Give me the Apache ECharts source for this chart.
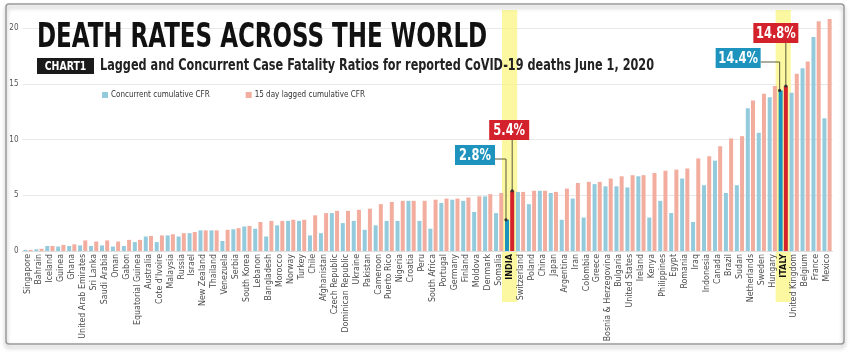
<!DOCTYPE html>
<html><head><meta charset="utf-8">
<script src="https://cdn.jsdelivr.net/npm/echarts@6/dist/echarts.min.js"></script>
<style>html,body{margin:0;padding:0;background:#fff}#c{width:850px;height:355px}</style>
</head><body><div id="c"></div>
<script>
const categories = ["Singapore","Bahrain","Iceland","Guinea","Ghana","United Arab Emirates","Sri Lanka","Saudi Arabia","Oman","Gabon","Equatorial Guinea","Australia","Cote d'Ivoire","Malaysia","Russia","Israel","New Zealand","Thailand","Venezuela","Serbia","South Korea","Lebanon","Bangladesh","Morocco","Norway","Turkey","Chile","Afghanistan","Czech Republic","Dominican Republic","Ukraine","Pakistan","Cameroon","Puerto Rico","Nigeria","Croatia","Peru","South Africa","Portugal","Germany","Finland","Moldova","Denmark","Somalia","INDIA","Switzerland","Poland","China","Japan","Argentina","Iran","Colombia","Greece","Bosnia & Herzegovina","Bulgaria","United States","Ireland","Kenya","Philippines","Egypt","Romania","Iraq","Indonesia","Canada","Brazil","Sudan","Netherlands","Sweden","Hungary","ITALY","United Kingdom","Belgium","France","Mexico"];
const concurrent = [0.1,0.15,0.45,0.4,0.45,0.5,0.45,0.5,0.4,0.45,0.8,1.3,0.8,1.4,1.3,1.6,1.85,1.85,0.9,1.95,2.2,2.0,1.3,2.3,2.7,2.7,1.4,1.6,3.4,2.5,2.7,1.9,2.3,2.7,2.7,4.5,2.7,2.0,4.3,4.6,4.5,3.5,4.9,3.4,2.8,5.3,4.2,5.4,5.2,2.8,4.7,3.0,6.0,5.8,5.8,5.7,6.7,3.0,4.5,3.4,6.5,2.6,5.9,8.1,5.2,5.9,12.8,10.6,13.8,14.4,14.2,16.4,19.2,11.9];
const lagged = [0.1,0.2,0.45,0.55,0.6,0.95,0.85,0.95,0.85,1.0,1.0,1.35,1.4,1.5,1.6,1.7,1.85,1.85,1.9,2.05,2.25,2.6,2.7,2.7,2.8,2.8,3.2,3.4,3.6,3.6,3.7,3.8,4.2,4.4,4.5,4.5,4.5,4.6,4.7,4.7,4.8,4.9,5.1,5.2,5.4,5.3,5.4,5.4,5.3,5.6,6.1,6.2,6.2,6.5,6.7,6.8,6.8,7.0,7.2,7.3,7.4,8.3,8.5,9.4,10.1,10.3,13.5,14.1,14.8,14.8,15.9,17.0,20.6,20.8];
const yTicks = [0, 5, 10, 15, 20];
const highlighted = ["INDIA", "ITALY"];
const seriesNames = ["Concurrent cumulative CFR", "15 day lagged cumulative CFR"];
const titleText = "DEATH RATES ACROSS THE WORLD";
const chartTag = "CHART1";
const subtitleText = "Lagged and Concurrent Case Fatality Ratios for reported CoVID-19 deaths June 1, 2020";

const FONT = "'Liberation Sans Narrow','DejaVu Sans Condensed','Liberation Sans',sans-serif";
const C_BLUE = '#93cbdc', C_RED = '#f3ad9f', H_BLUE = '#1d93bd', H_RED = '#d3222b';

function mk(vals, hi) {
  return vals.map((v, i) => highlighted.includes(categories[i]) ? {value: v, itemStyle: {color: hi}} : v);
}

const chart = echarts.init(document.getElementById('c'), null, {renderer: 'canvas'});
const option = {
  animation: false,
  backgroundColor: '#fff',
  legend: {
    left: 97, top: 86, itemWidth: 6, itemHeight: 6, itemGap: 36,
    icon: 'rect',
    textStyle: {fontFamily: FONT, fontSize: 8, color: '#333', padding: [0, 0, 0, -2]},
    data: [{name: seriesNames[0], itemStyle: {color: C_BLUE}}, {name: seriesNames[1], itemStyle: {color: C_RED}}]
  },
  grid: {left: 22.5, right: 17.5, top: 28, bottom: 104, containLabel: false},
  xAxis: {
    type: 'category', data: categories,
    axisLine: {show: true, lineStyle: {color: '#ddd'}},
    axisTick: {show: false},
    axisLabel: {
      interval: 0, rotate: 90, fontFamily: FONT, fontSize: 8.8, color: '#4a4a4a', margin: 3,
      formatter: v => highlighted.includes(v) ? '{b|' + v + '}' : v,
      rich: {b: {fontFamily: FONT, fontSize: 9, fontWeight: 'bold', color: '#111'}}
    }
  },
  yAxis: {
    type: 'value', min: yTicks[0], max: yTicks[yTicks.length - 1], interval: 5,
    axisLine: {show: false}, axisTick: {show: false},
    axisLabel: {fontFamily: FONT, fontSize: 8, color: '#555', margin: 4},
    splitLine: {lineStyle: {color: '#e8e8e8', width: 1}}
  },
  series: [
    {name: seriesNames[0], type: 'bar', data: mk(concurrent, H_BLUE), barWidth: 4, barGap: '30%', itemStyle: {color: C_BLUE}, clip: false, z: 3},
    {name: seriesNames[1], type: 'bar', data: mk(lagged, H_RED), barWidth: 4, itemStyle: {color: C_RED}, clip: false, z: 3}
  ]
};
chart.setOption(option);

const graphics = [];
// title & subtitle (condensed by horizontal scaling)
graphics.push({type: 'text', z: 60, silent: true, x: 37, y: 22, scaleX: 0.775, originX: 0,
  style: {text: titleText, fill: '#111', font: 'bold 33px ' + FONT, verticalAlign: 'top'}});
graphics.push({type: 'rect', z: 60, silent: true, shape: {x: 37, y: 58, width: 57, height: 16}, style: {fill: '#1a1a1a'}});
graphics.push({type: 'text', z: 61, silent: true, x: 65.5, y: 66.5, scaleX: 0.8, originX: 0,
  style: {text: chartTag, fill: '#fff', font: 'bold 13px ' + FONT, align: 'center', verticalAlign: 'middle'}});
graphics.push({type: 'text', z: 60, silent: true, x: 100, y: 66.5, scaleX: 0.835, originX: 0,
  style: {text: subtitleText, fill: '#222', font: 'bold 15px ' + FONT, verticalAlign: 'middle'}});

// decorations computed from the library's layout
const annotations = [
  {cat: "INDIA", s: 0, val: concurrent[categories.indexOf("INDIA")], color: H_BLUE, side: -6, boxTop: 145, kind: 'side'},
  {cat: "INDIA", s: 1, val: lagged[categories.indexOf("INDIA")], color: H_RED, off: -3, boxTop: 120, kind: 'top'},
  {cat: "ITALY", s: 0, val: concurrent[categories.indexOf("ITALY")], color: H_BLUE, side: -14, boxTop: 48, kind: 'side'},
  {cat: "ITALY", s: 1, val: lagged[categories.indexOf("ITALY")], color: H_RED, off: -10, boxTop: 23, kind: 'top'}
];
const model = chart.getModel();
function layoutOf(s, idx) { return model.getSeriesByIndex(s).getData().getItemLayout(idx); }
highlighted.forEach(name => {
  const idx = categories.indexOf(name);
  const a = layoutOf(0, idx), b = layoutOf(1, idx);
  const x0 = Math.min(a.x, b.x) - 3, x1 = Math.max(a.x + a.width, b.x + b.width) + 3;
  graphics.push({type: 'rect', z: 0, silent: true, shape: {x: x0, y: 10, width: x1 - x0, height: 292},
    style: {fill: 'rgba(249,245,130,0.75)'}});
});
const BH = 20;
annotations.forEach(an => {
  const idx = categories.indexOf(an.cat);
  const l = layoutOf(an.s, idx);
  const bx = l.x + l.width / 2;
  const topY = Math.min(l.y, l.y + l.height);
  const text = an.val.toFixed(1) + '%';
  const BW = text.length > 4 ? 45 : 40;
  let rx, ry = an.boxTop, pts;
  if (an.kind === 'top') {
    rx = bx + an.off - BW / 2;
    pts = [[bx, ry + BH], [bx, topY]];
  } else {
    rx = bx + an.side - 6 - BW;
    pts = [[rx + BW, ry + 14], [bx - 1, ry + 14], [bx - 1, topY]];
  }
  graphics.push({type: 'polyline', z: 50, silent: true, shape: {points: pts}, style: {stroke: '#5a5a3a', lineWidth: 1, fill: null}});
  graphics.push({type: 'circle', z: 51, silent: true, shape: {cx: pts[pts.length - 1][0], cy: topY, r: 1.6}, style: {fill: '#333'}});
  graphics.push({type: 'rect', z: 50, silent: true, shape: {x: rx, y: ry, width: BW, height: BH}, style: {fill: an.color}});
  graphics.push({type: 'text', z: 52, silent: true, x: rx + BW / 2, y: ry + BH / 2 + 1, scaleX: 0.85,
    style: {text: text, fill: '#fff', font: 'bold 15px ' + FONT, align: 'center', verticalAlign: 'middle'}});
});
graphics.push({type: 'rect', z: 100, silent: true, shape: {x: 6, y: 4, width: 838, height: 340, r: 3},
  style: {fill: null, stroke: '#9a9a9a', lineWidth: 1.5, shadowBlur: 4, shadowOffsetY: 3, shadowColor: 'rgba(0,0,0,0.35)'}});
chart.setOption({graphic: graphics});
</script></body></html>
